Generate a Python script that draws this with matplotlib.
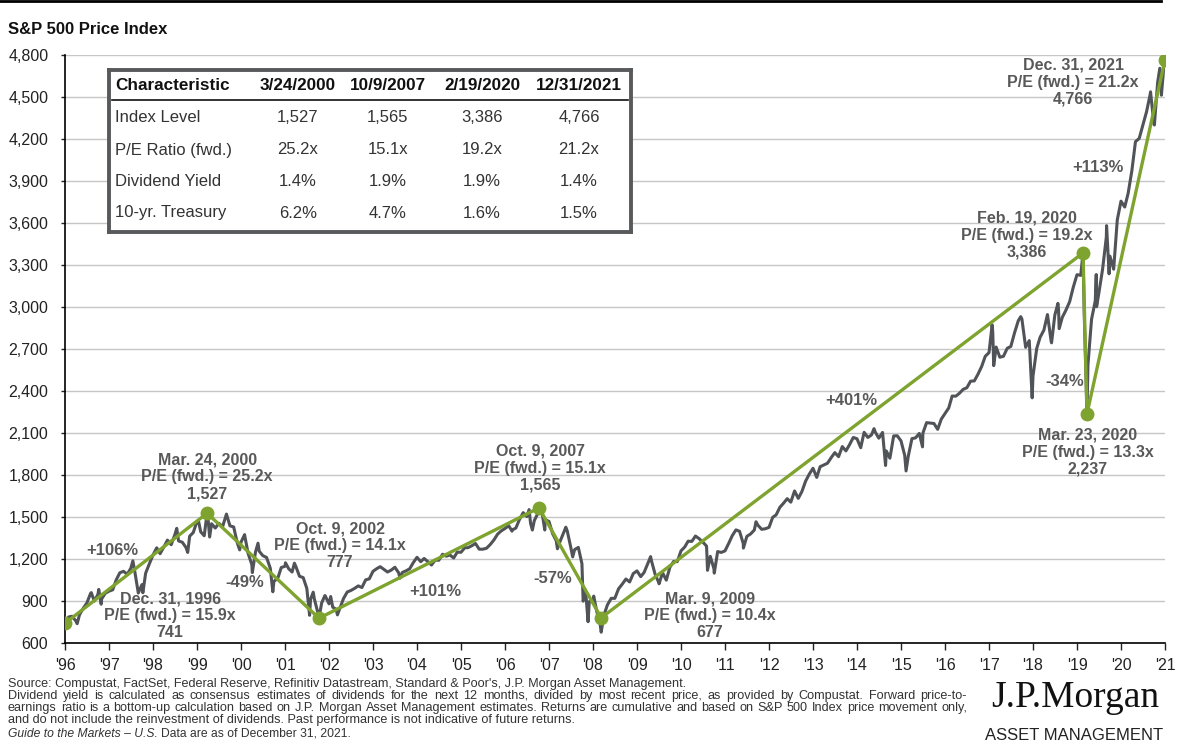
import matplotlib
matplotlib.use('Agg')
import matplotlib.pyplot as plt
from matplotlib.lines import Line2D
import pandas as pd

plt.rcParams['font.family'] = ['Liberation Sans', 'DejaVu Sans']

# S&P 500 month-end closes, 1997-2021
closes = {
    1997: [786, 791, 757, 801, 848, 885, 954, 899, 947, 915, 955, 970],
    1998: [980, 1049, 1102, 1112, 1091, 1134, 1121, 957, 1017, 1099, 1164, 1229],
    1999: [1280, 1238, 1286, 1335, 1302, 1373, 1329, 1320, 1283, 1363, 1389, 1469],
    2000: [1394, 1366, 1499, 1452, 1421, 1455, 1431, 1518, 1437, 1429, 1315, 1320],
    2001: [1366, 1240, 1160, 1249, 1256, 1224, 1211, 1134, 1041, 1060, 1139, 1148],
    2002: [1130, 1107, 1147, 1077, 1067, 990, 912, 916, 815, 886, 936, 880],
    2003: [856, 841, 848, 917, 964, 975, 990, 1008, 996, 1051, 1058, 1112],
    2004: [1131, 1145, 1126, 1107, 1121, 1141, 1102, 1104, 1115, 1130, 1174, 1212],
    2005: [1181, 1204, 1181, 1157, 1192, 1191, 1234, 1220, 1229, 1207, 1249, 1248],
    2006: [1280, 1281, 1295, 1311, 1270, 1270, 1277, 1304, 1336, 1378, 1401, 1418],
    2007: [1438, 1407, 1421, 1482, 1531, 1503, 1455, 1474, 1527, 1549, 1481, 1468],
    2008: [1379, 1331, 1323, 1386, 1400, 1280, 1267, 1283, 1166, 969, 896, 903],
    2009: [826, 735, 798, 873, 919, 919, 987, 1021, 1057, 1036, 1096, 1115],
    2010: [1074, 1104, 1169, 1187, 1089, 1031, 1102, 1049, 1141, 1183, 1181, 1258],
    2011: [1286, 1327, 1326, 1364, 1345, 1321, 1292, 1219, 1131, 1253, 1247, 1258],
    2012: [1312, 1366, 1408, 1398, 1310, 1362, 1379, 1407, 1441, 1412, 1416, 1426],
    2013: [1498, 1515, 1569, 1598, 1631, 1606, 1686, 1633, 1682, 1757, 1806, 1848],
    2014: [1783, 1859, 1872, 1884, 1924, 1960, 1931, 2003, 1972, 2018, 2068, 2059],
    2015: [1995, 2105, 2068, 2086, 2107, 2063, 2104, 1972, 1920, 2079, 2080, 2044],
    2016: [1940, 1932, 2060, 2065, 2097, 2099, 2174, 2171, 2168, 2126, 2199, 2239],
    2017: [2279, 2364, 2363, 2384, 2412, 2423, 2470, 2472, 2519, 2575, 2648, 2674],
    2018: [2824, 2714, 2641, 2648, 2705, 2718, 2816, 2902, 2914, 2712, 2760, 2507],
    2019: [2704, 2784, 2834, 2946, 2752, 2942, 2980, 2926, 2977, 3038, 3141, 3231],
    2020: [3226, 2954, 2585, 2912, 3044, 3100, 3271, 3500, 3363, 3270, 3622, 3756],
    2021: [3714, 3811, 3973, 4181, 4204, 4298, 4395, 4523, 4308, 4605, 4567, 4766],
}

# intra-month highs and lows seen on the chart
extra_dates = ['1996-12-31', '1997-04-11', '1997-08-06', '1997-10-07', '1997-10-27',
               '1998-07-17', '1998-10-08', '1999-07-16', '1999-10-15', '2000-01-14',
               '2000-03-24', '2000-04-14', '2000-09-01', '2000-12-20', '2001-01-30',
               '2001-04-04', '2001-05-21', '2001-09-21', '2002-01-04', '2002-03-19',
               '2002-07-23', '2002-08-22', '2002-10-09', '2002-11-27', '2003-01-14',
               '2003-03-11', '2004-08-12', '2007-02-27', '2007-07-19', '2007-08-15',
               '2007-10-09', '2007-11-26', '2008-03-10', '2008-05-19', '2008-07-15',
               '2008-10-10', '2008-11-20', '2009-01-06', '2009-03-09', '2010-04-23',
               '2010-07-02', '2011-08-08', '2011-10-03', '2012-06-01', '2012-09-14',
               '2015-05-21', '2015-08-25', '2016-02-11', '2016-06-27', '2018-01-26',
               '2018-02-08', '2018-09-20', '2018-12-24', '2019-06-03', '2019-07-26',
               '2019-08-05', '2020-02-19', '2020-03-23', '2020-06-08', '2020-06-11',
               '2020-09-02', '2020-09-23', '2021-09-02', '2021-10-04', '2021-11-18',
               '2021-12-01', '2021-12-29']
extra_values = [741, 738, 960, 983, 877,
                1187, 959, 1419, 1247, 1465,
                1527, 1357, 1521, 1265, 1374,
                1103, 1313, 966, 1173, 1170,
                798, 963, 777, 939, 932,
                801, 1063, 1399, 1553, 1407,
                1565, 1407, 1273, 1427, 1215,
                899, 752, 935, 677, 1217,
                1023, 1119, 1099, 1278, 1466,
                2131, 1868, 1829, 2001, 2873,
                2581, 2931, 2351, 2744, 3026,
                2845, 3386, 2237, 3232, 3002,
                3581, 3237, 4537, 4300, 4705,
                4513, 4793]

# highlighted turning points (green line)
peak_dates = ['1996-12-31', '2000-03-24', '2002-10-09', '2007-10-09',
              '2009-03-09', '2020-02-19', '2020-03-23', '2021-12-31']
peak_values = [741, 1527, 777, 1565, 780, 3386, 2237, 4766]

peak_labels = ['Dec. 31, 1996\nP/E (fwd.) = 15.9x\n741',
               'Mar. 24, 2000\nP/E (fwd.) = 25.2x\n1,527',
               'Oct. 9, 2002\nP/E (fwd.) = 14.1x\n777',
               'Oct. 9, 2007\nP/E (fwd.) = 15.1x\n1,565',
               'Mar. 9, 2009\nP/E (fwd.) = 10.4x\n677',
               'Feb. 19, 2020\nP/E (fwd.) = 19.2x\n3,386',
               'Mar. 23, 2020\nP/E (fwd.) = 13.3x\n2,237',
               'Dec. 31, 2021\nP/E (fwd.) = 21.2x\n4,766']
label_pos = [(1999.39, 793), (2000.23, 1786), (2003.25, 1293), (2007.8, 1850),
             (2011.66, 793), (2018.86, 3514), (2020.25, 1964), (2019.91, 4607)]

moves = ['+106%', '-49%', '+101%', '-57%', '+401%', '-34%', '+113%']
move_pos = [(1998.07, 1264), (2001.09, 1029), (2005.41, 971), (2008.09, 1064),
            (2014.86, 2329), (2019.73, 2471), (2020.48, 4000)]

table_cols = ['Characteristic', '3/24/2000', '10/9/2007', '2/19/2020', '12/31/2021']
table_rows = [['Index Level', '1,527', '1,565', '3,386', '4,766'],
              ['P/E Ratio (fwd.)', '25.2x', '15.1x', '19.2x', '21.2x'],
              ['Dividend Yield', '1.4%', '1.9%', '1.9%', '1.4%'],
              ['10-yr. Treasury', '6.2%', '4.7%', '1.6%', '1.5%']]

footnotes = [
    "Source: Compustat, FactSet, Federal Reserve, Refinitiv Datastream, Standard & Poor's, J.P. Morgan Asset Management.",
    "Dividend yield is calculated as consensus estimates of dividends for the next 12 months, divided by most recent price, as provided by Compustat. Forward price-to-",
    "earnings ratio is a bottom-up calculation based on J.P. Morgan Asset Management estimates. Returns are cumulative and based on S&P 500 Index price movement only,",
    "and do not include the reinvestment of dividends. Past performance is not indicative of future returns.",
]
justified = [False, True, True, False]


def dec_year(ts):
    days = 366 if ts.is_leap_year else 365
    return ts.year + ts.dayofyear / days


pts = []
for yr, vals in closes.items():
    for m, v in enumerate(vals, start=1):
        pts.append((pd.Timestamp(yr, m, 1) + pd.offsets.MonthEnd(0), v))
for d, v in zip(extra_dates, extra_values):
    pts.append((pd.Timestamp(d), v))
spx = pd.DataFrame(pts, columns=['date', 'value']).drop_duplicates('date', keep='last')
spx = spx.sort_values('date')
spx['x'] = spx['date'].apply(dec_year)

peak_x = [dec_year(pd.Timestamp(d)) for d in peak_dates]

W, H = 1187, 748
fig = plt.figure(figsize=(W / 100, H / 100), dpi=100)


def fx(px):
    return px / W


def fy(py):
    return 1 - py / H


ax = fig.add_axes([fx(65), fy(643), fx(1165) - fx(65), fy(55) - fy(643)])
ax.plot(spx['x'], spx['value'], color='#505357', lw=2.2, zorder=3)
ax.plot(peak_x, peak_values, color='#7fa32f', lw=2.4, marker='o', ms=9, zorder=4)

ax.set_xlim(1997, 2022)
ax.set_ylim(600, 4800)
years = list(range(1997, 2023))
ax.set_xticks(years)
ax.set_xticklabels(["'%02d" % ((y - 1) % 100) for y in years])
yt = list(range(600, 4801, 300))
ax.set_yticks(yt)
ax.set_yticklabels([f'{v:,}' for v in yt])
ax.yaxis.grid(True, color='#c6c6c6', lw=1)
ax.set_axisbelow(True)
for s in ['top', 'right']:
    ax.spines[s].set_visible(False)
for s in ['left', 'bottom']:
    ax.spines[s].set_color('black')
    ax.spines[s].set_linewidth(1.2)
ax.tick_params(axis='x', length=5, width=1, pad=6, labelsize=11.5, colors='#222222')
ax.tick_params(axis='y', length=3, width=1, pad=9, labelsize=11.5, colors='#222222')

ann = dict(ha='center', va='center', color='#595959', fontweight='bold',
           fontsize=11.5, linespacing=1.15, zorder=5)
for txt, (x, y) in zip(peak_labels, label_pos):
    ax.text(x, y, txt, **ann)
for txt, (x, y) in zip(moves, move_pos):
    ax.text(x, y, txt, **{**ann, 'fontsize': 12})

# table box
tab = fig.add_axes([fx(109), fy(232), fx(631) - fx(109), fy(70) - fy(232)], zorder=6)
tab.set_xlim(109, 631)
tab.set_ylim(232, 70)
tab.set_xticks([])
tab.set_yticks([])
tab.set_facecolor('white')
for s in tab.spines.values():
    s.set_color('#58595b')
    s.set_linewidth(2.8)
col_x = [115, 298, 388, 482, 579]
row_y = [118, 150, 181, 213]
for i, c in enumerate(table_cols):
    tab.text(col_x[i], 86, c, ha='left' if i == 0 else 'center', va='center',
             fontsize=12.3, fontweight='bold', color='#111111')
tab.plot([112, 628], [100, 100], color='#111111', lw=1.2)
for r, row in enumerate(table_rows):
    for i, c in enumerate(row):
        tab.text(col_x[i], row_y[r], c, ha='left' if i == 0 else 'center', va='center',
                 fontsize=12, color='#333333')

# title, rule, footnotes, logo
fig.add_artist(Line2D([0, fx(1161)], [fy(1), fy(1)], color='black', lw=2))
fig.text(fx(8), fy(30), 'S&P 500 Price Index', fontsize=12, fontweight='bold',
         ha='left', va='center', color='#111111')

renderer = fig.canvas.get_renderer()
foot_y = [684, 696, 708, 720]
for line, just, py in zip(footnotes, justified, foot_y):
    if not just:
        fig.text(fx(8), fy(py), line, fontsize=9.1, ha='left', va='center', color='#333333')
        continue
    words = line.split(' ')
    objs = [fig.text(0, fy(py), w, fontsize=9.1, ha='left', va='center', color='#333333')
            for w in words]
    widths = [o.get_window_extent(renderer).width for o in objs]
    gap = (967 - 8 - sum(widths)) / (len(words) - 1)
    xpos = 8
    for o, wd in zip(objs, widths):
        o.set_x(fx(xpos))
        xpos += wd + gap

g = fig.text(fx(8), fy(734), 'Guide to the Markets – U.S.', fontsize=8.7, style='italic',
             ha='left', va='center', color='#333333')
bb = g.get_window_extent(renderer)
fig.text((bb.x1 + 3) / W, fy(734), 'Data are as of December 31, 2021.', fontsize=8.7,
         ha='left', va='center', color='#333333')
fig.text(fx(1075), fy(698), 'J.P.Morgan', family=['Liberation Serif', 'DejaVu Serif'],
         fontsize=27, ha='center', va='center', color='#111111')
fig.text(fx(1074), fy(736), 'ASSET MANAGEMENT', fontsize=12, ha='center', va='center',
         color='#222222')

fig.savefig('out.png', dpi=100)
